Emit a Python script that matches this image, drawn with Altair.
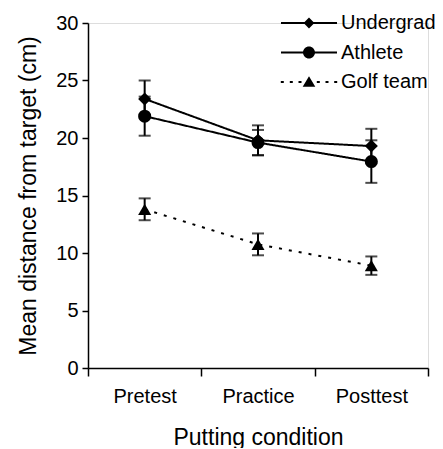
import altair as alt
import pandas as pd

conditions = ["Pretest", "Practice", "Posttest"]
groups = ["Undergrad", "Athlete", "Golf team"]
undergrad_mean = [23.4, 19.8, 19.3]
undergrad_se = [1.6, 1.3, 1.5]
athlete_mean = [21.9, 19.6, 17.95]
athlete_se = [1.7, 1.1, 1.85]
golf_mean = [13.8, 10.75, 8.9]
golf_se = [0.95, 0.95, 0.8]

rows = []
for g, m, s in zip(groups, [undergrad_mean, athlete_mean, golf_mean],
                   [undergrad_se, athlete_se, golf_se]):
    for c, mv, sv in zip(conditions, m, s):
        rows.append({"condition": c, "group": g, "mean": mv,
                     "lo": mv - sv, "hi": mv + sv})
df = pd.DataFrame(rows)

FONT = "Liberation Sans"

x = alt.X("condition:N", sort=conditions,
          scale=alt.Scale(paddingInner=0, paddingOuter=0),
          axis=alt.Axis(title="Putting condition", labelAngle=0, tickBand="extent",
                        domainColor="black", domainWidth=1.5, tickColor="black",
                        tickWidth=1.5, tickSize=8, labelFontSize=20, labelPadding=10,
                        titleFontSize=23, titleFontWeight="normal", titlePadding=20,
                        labelColor="black", titleColor="black", labelFont=FONT,
                        titleFont=FONT))
y_scale = alt.Scale(domain=[0, 30], nice=False)
y = alt.Y("mean:Q", scale=y_scale,
          axis=alt.Axis(title="Mean distance from target (cm)", values=[0, 5, 10, 15, 20, 25, 30],
                        grid=False, domainColor="black", domainWidth=1.5, tickColor="black",
                        tickWidth=1.5, tickSize=6, labelFontSize=20, labelPadding=4,
                        titleFontSize=23, titleFontWeight="normal", titlePadding=15,
                        labelColor="black", titleColor="black", labelFont=FONT,
                        titleFont=FONT))

base = alt.Chart(df)

lines = base.mark_line(color="black", strokeWidth=2).encode(
    x=x, y=y,
    detail="group:N",
    strokeDash=alt.StrokeDash("group:N", scale=alt.Scale(domain=groups, range=[[1, 0], [1, 0], [3, 7]]),
                              legend=None),
)

rules = base.mark_rule(color="black", strokeWidth=2).encode(
    x=x, y=alt.Y("lo:Q", scale=y_scale), y2="hi:Q")
caps_lo = base.mark_tick(color="black", thickness=2, size=12).encode(
    x=x, y=alt.Y("lo:Q", scale=y_scale))
caps_hi = base.mark_tick(color="black", thickness=2, size=12).encode(
    x=x, y=alt.Y("hi:Q", scale=y_scale))

points = base.mark_point(filled=True, color="black", opacity=1, size=170).encode(
    x=x, y=y,
    shape=alt.Shape("group:N", scale=alt.Scale(domain=groups, range=["diamond", "circle", "triangle-up"]),
                    legend=None),
)


def bars(intervals, h=0.17):
    return "".join(f"M{a},{-h}L{b},{-h}L{b},{h}L{a},{h}Z" for a, b in intervals)


solid = [(-4.67, -0.6), (0.6, 4.67)]
dots = [(-4.7, -4.2), (-3.2, -2.7), (-1.75, -1.25), (1.3, 1.8), (2.75, 3.25), (4.2, 4.7)]
leg_paths = [
    bars(solid) + "M-0.9,0L0,-0.9L0.9,0L0,0.9Z",
    bars(solid) + "M-1,0A1,1,0,1,1,1,0A1,1,0,1,1,-1,0Z",
    bars(dots) + "M0,-0.95L1.05,0.8L-1.05,0.8Z",
]
legend_layer = base.mark_point(filled=True, color="black", opacity=0).encode(
    x=x, y=y,
    shape=alt.Shape("group:N", scale=alt.Scale(domain=groups, range=leg_paths),
                    legend=alt.Legend(title=None, orient="none", legendX=211, legendY=-10,
                                      symbolSize=144, symbolOpacity=1, symbolFillColor="black",
                                      labelFontSize=20, labelFont=FONT, labelColor="black",
                                      labelOffset=22, rowPadding=9.5, padding=0)),
)

chart = alt.layer(lines, rules, caps_lo, caps_hi, points, legend_layer).resolve_scale(
    shape="independent"
).properties(
    width=340, height=345,
    autosize=alt.AutoSizeParams(type="none"),
    padding={"left": 80, "top": 15, "right": 7, "bottom": 80},
).configure_view(stroke=None).configure(font=FONT)

chart.save("out.html", embed_options={"renderer": "svg", "actions": False})
